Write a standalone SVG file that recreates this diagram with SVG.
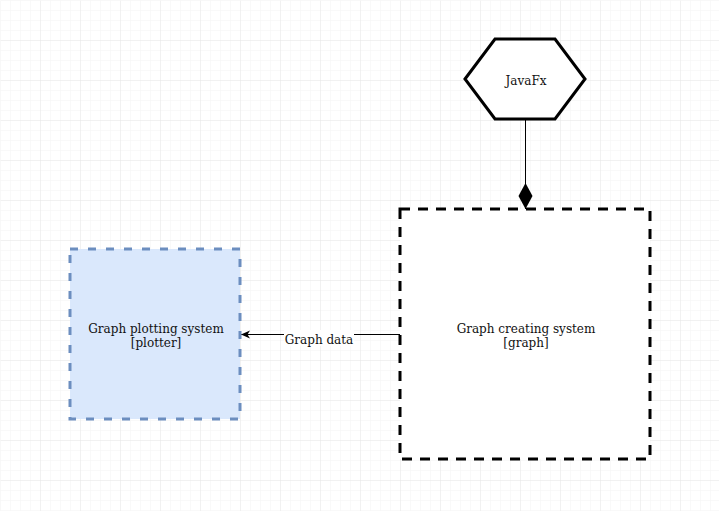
<svg xmlns="http://www.w3.org/2000/svg" width="719" height="511" viewBox="0 0 719 511">
<defs>
<pattern id="minor" width="10" height="10" patternUnits="userSpaceOnUse">
<path d="M10 0 L0 0 0 10" fill="none" stroke="#f3f3f3" stroke-width="1"/>
</pattern>
<pattern id="major" width="40" height="40" patternUnits="userSpaceOnUse">
<rect width="40" height="40" fill="url(#minor)"/>
<path d="M40 0 L0 0 0 40" fill="none" stroke="#e8e8e8" stroke-width="1"/>
</pattern>
<marker id="diamond" markerWidth="28" markerHeight="16" refX="26" refY="8" orient="auto" markerUnits="userSpaceOnUse" viewBox="0 0 28 16">
<path d="M0 8 L13 1 L26 8 L13 15 Z" fill="#000"/>
</marker>
<marker id="arrow" markerWidth="10" markerHeight="10" refX="9" refY="5" orient="auto" markerUnits="userSpaceOnUse" viewBox="0 0 10 10">
<path d="M0 1 L9 5 L0 9 L2.5 5 Z" fill="#000"/>
</marker>
</defs>
<style>
text{font-family:"DejaVu Serif",serif;font-size:12px;fill:#111;text-anchor:middle}
.edge{fill:none;stroke:#000;stroke-width:1}
</style>
<rect x="0" y="0" width="719" height="511" fill="#fff"/>
<rect x="0.5" y="0.5" width="719" height="511" fill="url(#major)"/>
<g id="connectors">
<path class="edge" d="M525.5 119 L525.5 209" marker-end="url(#diamond)"/>
<path class="edge" d="M400 334.5 L241 334.5" marker-end="url(#arrow)"/>
<rect x="284" y="330" width="70" height="16" fill="#fff"/>
<text x="319" y="344">Graph data</text>
</g>
<g id="javafx">
<polygon points="465,79 495,39 555,39 585,79 555,119 495,119" fill="#fff" stroke="#000" stroke-width="3"/>
<text x="526" y="85">JavaFx</text>
</g>
<g id="graph">
<rect x="400" y="209" width="250" height="250" fill="#fff" stroke="#000" stroke-width="3" stroke-dasharray="10 8"/>
<text x="526" y="333">Graph creating system</text>
<text x="526" y="347">[graph]</text>
</g>
<g id="plotter">
<rect x="70" y="249" width="170" height="170" fill="#dae8fc" stroke="#6c8ebf" stroke-width="3" stroke-dasharray="8 10"/>
<text x="156" y="333">Graph plotting system</text>
<text x="156" y="347">[plotter]</text>
</g>
</svg>
